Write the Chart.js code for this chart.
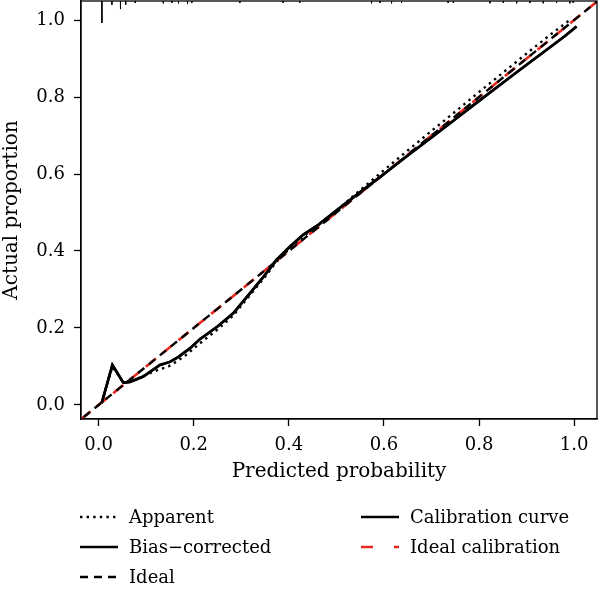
<!DOCTYPE html>
<html>
<head>
<meta charset="utf-8">
<script src="https://cdn.jsdelivr.net/npm/chart.js@4.4.0/dist/chart.umd.min.js"></script>
<style>
html, body { margin: 0; padding: 0; background: #fff; }
#wrap { width: 600px; height: 592px; }
</style>
</head>
<body>
<div id="wrap"><canvas id="myChart"></canvas></div>
<script>
// values
const xTicks = [0, 0.2, 0.4, 0.6, 0.8, 1.0];
const yTicks = [0, 0.2, 0.4, 0.6, 0.8, 1.0];

const apparentX = [0.0065, 0.029, 0.052, 0.066, 0.080, 0.112, 0.129, 0.147, 0.164, 0.182, 0.213, 0.250, 0.283, 0.318, 0.350, 0.374, 0.402, 0.430, 0.460, 0.500, 0.550, 0.600, 0.650, 0.700, 0.750, 0.800, 0.850, 0.900, 0.950, 0.995];
const apparentY = [0.005, 0.100, 0.058, 0.060, 0.068, 0.085, 0.093, 0.100, 0.113, 0.128, 0.160, 0.196, 0.232, 0.285, 0.333, 0.372, 0.407, 0.438, 0.466, 0.505, 0.558, 0.610, 0.661, 0.712, 0.762, 0.813, 0.863, 0.913, 0.962, 1.004];

const biasX = [0.0065, 0.029, 0.052, 0.066, 0.094, 0.129, 0.150, 0.168, 0.192, 0.213, 0.250, 0.283, 0.318, 0.350, 0.374, 0.402, 0.430, 0.462, 0.500, 0.550, 0.600, 0.650, 0.700, 0.750, 0.800, 0.850, 0.900, 0.950, 0.980, 1.005];
const biasY = [0.005, 0.104, 0.058, 0.060, 0.074, 0.104, 0.112, 0.125, 0.147, 0.171, 0.204, 0.238, 0.290, 0.338, 0.377, 0.411, 0.442, 0.468, 0.505, 0.553, 0.600, 0.648, 0.695, 0.742, 0.790, 0.837, 0.884, 0.930, 0.958, 0.983];

const idealX = [-0.1, 1.2];
const idealY = [-0.1, 1.2];

// rug of predicted probabilities along the top edge (height in y units)
const rugX = [0.007, 0.028, 0.046, 0.057, 0.077, 0.136, 0.154, 0.168, 0.187, 0.196, 0.297, 0.388, 0.423, 0.574, 0.592, 0.616, 0.637, 0.735, 0.746, 0.823, 0.851, 0.879, 0.907, 0.935, 0.963, 0.991, 0.998];
const rugH = [0.057, 0.010, 0.021, 0.010, 0.005, 0.006, 0.005, 0.006, 0.008, 0.005, 0.005, 0.005, 0.005, 0.006, 0.005, 0.006, 0.005, 0.005, 0.005, 0.006, 0.005, 0.006, 0.005, 0.006, 0.005, 0.006, 0.005];

const xMin = -0.037, xMax = 1.048;
const yMin = -0.0364, yMax = 1.0494;

const FONT = '"DejaVu Serif", serif';

function pts(xs, ys) {
  return xs.map((x, i) => ({ x: x, y: ys[i] }));
}

const rugData = [];
rugX.forEach((x, i) => {
  rugData.push({ x: x, y: yMax });
  rugData.push({ x: x, y: yMax - rugH[i] });
  rugData.push({ x: x, y: null });
});

// box round the plot region
const boxPlugin = {
  id: 'box',
  afterDatasetsDraw(chart) {
    const a = chart.chartArea, ctx = chart.ctx;
    ctx.save();
    ctx.strokeStyle = '#000';
    ctx.lineWidth = 1.3;
    ctx.strokeRect(a.left, a.top, a.right - a.left, a.bottom - a.top);
    ctx.restore();
  }
};

// two-column legend under the x axis
const legendPlugin = {
  id: 'bottomLegend',
  afterDraw(chart) {
    const ctx = chart.ctx;
    const items = chart.data.datasets.filter(d => d.label);
    ctx.save();
    ctx.font = '18px ' + FONT;
    ctx.textBaseline = 'middle';
    ctx.fillStyle = '#000';
    items.forEach((d, i) => {
      const col = i < 3 ? 0 : 1;
      const row = col ? i - 3 : i;
      const x0 = col ? 361 : 80;
      const y = 517 + row * 30;
      ctx.beginPath();
      ctx.strokeStyle = d.borderColor;
      ctx.lineWidth = d.borderWidth;
      ctx.setLineDash(d.legendDash || []);
      ctx.moveTo(x0, y);
      ctx.lineTo(x0 + 38, y);
      ctx.stroke();
      ctx.fillText(d.label, x0 + 49, y + 1);
    });
    ctx.restore();
  }
};

const config = {
  type: 'scatter',
  data: {
    datasets: [
      {
        label: 'Apparent',
        data: pts(apparentX, apparentY),
        showLine: true,
        borderColor: '#000',
        borderWidth: 2.4,
        borderDash: [2.4, 4.2],
        legendDash: [2.4, 4.2],
        pointRadius: 0
      },
      {
        label: 'Bias\u2212corrected',
        data: pts(biasX, biasY),
        showLine: true,
        borderColor: '#000',
        borderWidth: 2.6,
        legendDash: [],
        pointRadius: 0
      },
      {
        label: 'Ideal',
        data: pts(idealX, idealY),
        showLine: true,
        borderColor: '#000',
        borderWidth: 2.4,
        borderDash: [8, 6],
        legendDash: [8, 6],
        pointRadius: 0
      },
      {
        label: 'Calibration curve',
        data: pts(biasX, biasY),
        showLine: true,
        borderColor: '#000',
        borderWidth: 2.6,
        legendDash: [],
        pointRadius: 0
      },
      {
        label: 'Ideal calibration',
        data: pts(idealX, idealY),
        showLine: true,
        borderColor: '#e8281e',
        borderWidth: 2.6,
        borderDash: [13, 8],
        borderDashOffset: 4,
        legendDash: [12, 21],
        pointRadius: 0
      },
      {
        data: rugData,
        showLine: true,
        borderColor: '#000',
        borderWidth: 1,
        pointRadius: 0,
        spanGaps: false
      }
    ]
  },
  options: {
    responsive: false,
    animation: false,
    layout: { padding: { top: 1, right: 3, bottom: 103, left: 0 } },
    plugins: {
      legend: { display: false },
      tooltip: { enabled: false }
    },
    scales: {
      x: {
        type: 'linear',
        min: xMin,
        max: xMax,
        afterBuildTicks: ax => { ax.ticks = xTicks.map(v => ({ value: v })); },
        afterFit: s => { s.height = 70; s.paddingLeft = 0; s.paddingRight = 0; },
        grid: { drawOnChartArea: false, tickLength: 7, color: '#000', tickWidth: 1.3 },
        border: { color: '#000', width: 1.3 },
        ticks: {
          color: '#000',
          font: { family: FONT, size: 18 },
          padding: 9,
          maxRotation: 0,
          callback: v => v.toFixed(1)
        },
        title: {
          display: true,
          text: 'Predicted probability',
          color: '#000',
          font: { family: FONT, size: 20 },
          padding: { top: 2, bottom: 5 }
        }
      },
      y: {
        type: 'linear',
        min: yMin,
        max: yMax,
        afterBuildTicks: ax => { ax.ticks = yTicks.map(v => ({ value: v })); },
        afterFit: s => { s.width = 81; s.paddingTop = 0; s.paddingBottom = 0; },
        grid: { drawOnChartArea: false, tickLength: 7, color: '#000', tickWidth: 1.3 },
        border: { color: '#000', width: 1.3 },
        ticks: {
          color: '#000',
          font: { family: FONT, size: 18 },
          padding: 9,
          callback: v => v.toFixed(1)
        },
        title: {
          display: true,
          text: 'Actual proportion',
          color: '#000',
          font: { family: FONT, size: 20 },
          padding: { top: 0, bottom: 0 }
        }
      }
    }
  },
  plugins: [boxPlugin, legendPlugin]
};

const canvas = document.getElementById('myChart');
canvas.width = 600;
canvas.height = 592;
let myChart = new Chart(canvas.getContext('2d'), config);
</script>
</body>
</html>
